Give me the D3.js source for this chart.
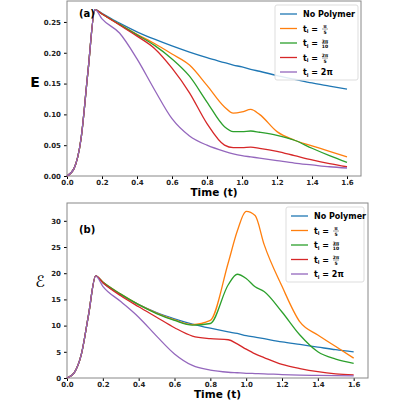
<!DOCTYPE html>
<html><head><meta charset="utf-8">
<script src="https://cdn.jsdelivr.net/npm/d3@7"></script>
<style>body{margin:0;background:#fff}text{font-family:"DejaVu Sans",sans-serif}</style>
</head><body><svg id="c" width="400" height="400"></svg>
<script>
var time = [0,0.04,0.08,0.12,0.16,0.2,0.3,0.4,0.5,0.6,0.7,0.8,0.9,0.95,1.0,1.05,1.1,1.2,1.3,1.4,1.5,1.6];
var names = ["No Polymer","a","b","c","d"];
var colors = ["#1f77b4","#ff7f0e","#2ca02c","#d62728","#9467bd"];
var fracs = [null,["π","5"],["3π","10"],["2π","5"],null];
var rise = [0,0.012,0.06,0.17,0.27];
var riseB = [0,1,4.5,12,19.5];
var eBlue   = [0.264,0.248,0.234,0.222,0.211,0.201,0.192,0.184,0.180,0.177,0.173,0.170,0.163,0.157,0.151,0.146,0.141];
var eOrange = [0.263,0.246,0.230,0.215,0.198,0.180,0.147,0.112,0.102,0.104,0.108,0.100,0.072,0.058,0.049,0.040,0.031];
var eGreen  = [0.263,0.246,0.229,0.212,0.190,0.162,0.120,0.080,0.072,0.072,0.073,0.071,0.066,0.058,0.045,0.033,0.022];
var eRed    = [0.263,0.245,0.227,0.207,0.175,0.135,0.085,0.050,0.046,0.046,0.047,0.045,0.040,0.033,0.026,0.020,0.015];
var ePurple = [0.255,0.232,0.190,0.140,0.093,0.065,0.050,0.040,0.036,0.033,0.031,0.029,0.025,0.021,0.018,0.015,0.013];
var bBlue   = [18.2,15.9,14.0,12.5,11.3,10.3,9.5,8.8,8.5,8.1,7.8,7.5,6.9,6.4,5.9,5.4,5.0];
var bOrange = [18.3,16.0,14.0,12.4,11.1,10.2,11.0,22.0,28.0,31.8,31.0,25.5,17.5,10.7,8.2,6.0,3.8];
var bGreen  = [18.3,16.0,14.0,12.3,11.0,10.1,10.4,17.8,19.8,19.0,17.4,16.5,12.6,8.2,5.0,3.6,2.8];
var bRed    = [18.2,15.7,13.6,11.6,9.6,8.0,7.5,7.3,6.5,5.5,4.6,3.9,2.6,1.8,1.2,0.8,0.6];
var bPurple = [17.5,14.6,11.6,8.0,4.6,2.4,1.5,1.1,1.0,0.9,0.85,0.8,0.65,0.55,0.5,0.45,0.4];

var svg = d3.select("#c");

function panel(p){
  var x = d3.scaleLinear().domain([0,1.68]).range([p.l,p.r]);
  var y = d3.scaleLinear().domain(p.yd).range([p.b,p.t]);
  var g = svg.append("g");
  g.append("g").attr("transform","translate(0,"+p.b+")")
    .call(d3.axisBottom(x).tickValues([0,0.2,0.4,0.6,0.8,1.0,1.2,1.4,1.6]).tickFormat(d3.format(".1f")).tickSize(3).tickPadding(1));
  g.append("g").attr("transform","translate("+p.l+",0)")
    .call(d3.axisLeft(y).tickValues(p.ticks).tickFormat(p.fmt).tickSize(3));
  g.selectAll(".domain").remove();
  g.selectAll(".tick text").attr("font-size",7).attr("font-weight","bold").attr("fill","#222");
  g.append("rect").attr("x",p.l).attr("y",p.t).attr("width",p.r-p.l).attr("height",p.b-p.t)
    .attr("fill","none").attr("stroke","#888").attr("stroke-width",1);
  var line = d3.line().x(function(d,i){return x(time[i]);}).y(function(d){return y(d);}).curve(d3.curveMonotoneX);
  p.series.forEach(function(s,k){
    g.append("path").datum(p.rise.concat(s)).attr("d",line).attr("fill","none")
      .attr("stroke",colors[k]).attr("stroke-width",1.3);
  });
  g.append("text").attr("x",p.l+12).attr("y",p.t+p.labY).attr("font-size",10).attr("font-weight","bold").text(p.label);
  g.append("text").attr("x",(p.l+p.r)/2).attr("y",p.b+20).attr("text-anchor","middle")
    .attr("font-size",10.5).attr("font-weight","bold").text("Time (t)");
  // legend
  var lg = g.append("g").attr("transform","translate("+p.lx+","+p.ly+")");
  lg.append("rect").attr("width",p.lw).attr("height",75).attr("rx",2).attr("fill","#fff")
    .attr("fill-opacity",0.85).attr("stroke","#ddd");
  names.forEach(function(n,k){
    var yy = 9 + k*14.5;
    lg.append("line").attr("x1",5).attr("x2",22).attr("y1",yy).attr("y2",yy).attr("stroke",colors[k]).attr("stroke-width",1.3);
    if(k===0){
      lg.append("text").attr("x",28).attr("y",yy+3).attr("font-size",8).attr("font-weight","bold").text(n);
      return;
    }
    var t = lg.append("text").attr("x",28).attr("y",yy+3).attr("font-size",8).attr("font-weight","bold");
    t.append("tspan").text("t");
    t.append("tspan").attr("font-size",5).attr("dy",1.5).text("l");
    t.append("tspan").attr("dy",-1.5).text(" = ");
    if(fracs[k]){
      var fx = 50;
      lg.append("text").attr("x",fx).attr("y",yy-0.5).attr("font-size",4.5).attr("font-weight","bold").attr("text-anchor","middle").text(fracs[k][0]);
      lg.append("line").attr("x1",fx-3).attr("x2",fx+3).attr("y1",yy+0.5).attr("y2",yy+0.5).attr("stroke","#000").attr("stroke-width",0.4);
      lg.append("text").attr("x",fx).attr("y",yy+5).attr("font-size",4.5).attr("font-weight","bold").attr("text-anchor","middle").text(fracs[k][1]);
    } else {
      t.append("tspan").text("2π");
    }
  });
}

panel({l:67,r:361,t:1,b:176,yd:[0,0.284],ticks:[0,0.05,0.1,0.15,0.2,0.25],fmt:d3.format(".2f"),
  rise:rise,series:[eBlue,eOrange,eGreen,eRed,ePurple],label:"(a)",labY:16,lx:275,ly:5,lw:83});
panel({l:67,r:368,t:203,b:378,yd:[0,33.4],ticks:[0,5,10,15,20,25,30],fmt:d3.format("d"),
  rise:riseB,series:[bBlue,bOrange,bGreen,bRed,bPurple],label:"(b)",labY:30,lx:286,ly:207,lw:78});

svg.append("text").attr("x",35).attr("y",87).attr("text-anchor","middle").attr("font-size",14).attr("font-weight","bold").text("E");
svg.append("text").attr("x",40).attr("y",287).attr("text-anchor","middle").attr("font-size",16)
  .attr("font-family","DejaVu Sans").text("ℰ");
</script></body></html>
